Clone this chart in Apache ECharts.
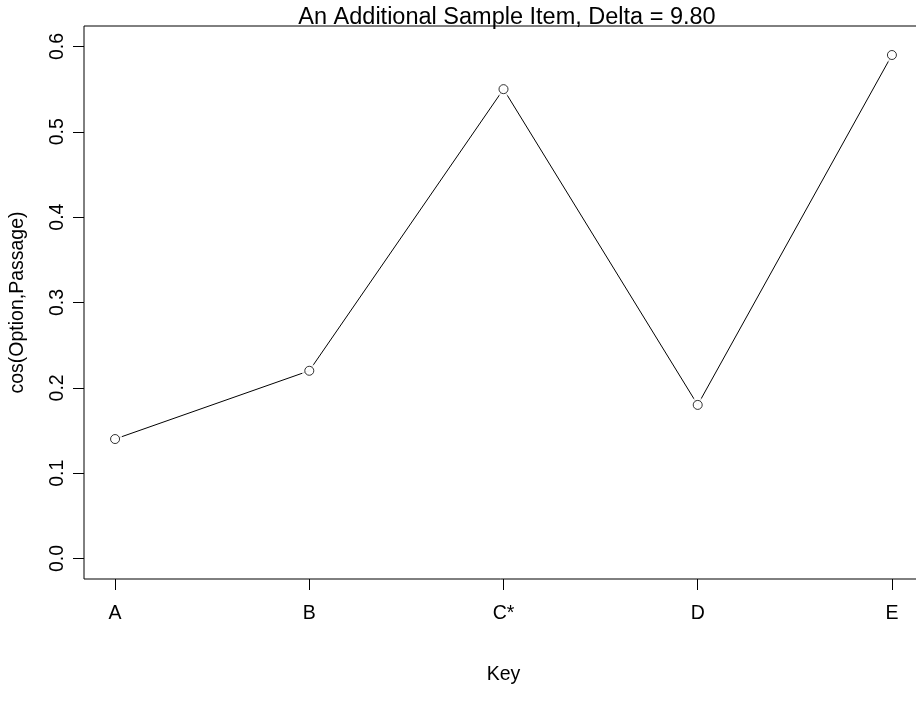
<!DOCTYPE html>
<html>
<head>
<meta charset="utf-8">
<script src="https://cdn.jsdelivr.net/npm/echarts@6/dist/echarts.min.js"></script>
<style>
  html, body { margin: 0; padding: 0; background: #fff; }
  #main { width: 916px; height: 715px; }
</style>
</head>
<body>
<div id="main"></div>
<script>
// data
const categories = ['A', 'B', 'C*', 'D', 'E'];
const values = [0.14, 0.22, 0.55, 0.18, 0.59];
const yTicks = [0, 0.1, 0.2, 0.3, 0.4, 0.5, 0.6];

const FONT = '"Liberation Sans", Arial, sans-serif';

const chart = echarts.init(document.getElementById('main'), null, { renderer: 'canvas' });

// points as [index, value]
const points = values.map((v, i) => [i, v]);
const xTicks = categories.map((c, i) => i);

const option = {
  backgroundColor: '#fff',
  animation: false,
  title: {
    text: 'An Additional Sample Item, Delta = 9.80',
    left: 502,
    top: 1,
    textAlign: 'center',
    textStyle: { fontFamily: FONT, fontSize: 23.5, fontWeight: 'normal', color: '#000' }
  },
  grid: {
    left: 84,
    top: 26,
    width: 839,
    bottom: 136,
    outerBoundsMode: 'none',
    containLabel: false,
    show: true,
    borderColor: '#000',
    borderWidth: 1,
    backgroundColor: 'transparent'
  },
  xAxis: {
    type: 'value',
    min: -0.16,
    max: 4.16,
    name: 'Key',
    nameLocation: 'middle',
    nameGap: 86,
    nameTextStyle: { fontFamily: FONT, fontSize: 19.5, color: '#000' },
    axisLine: { show: false, onZero: false },
    splitLine: { show: false },
    axisTick: {
      show: true,
      length: 11,
      customValues: xTicks,
      lineStyle: { color: '#000' }
    },
    axisLabel: {
      customValues: xTicks,
      margin: 25,
      fontFamily: FONT,
      fontSize: 19.5,
      color: '#000',
      formatter: (v) => categories[Math.round(v)]
    }
  },
  yAxis: {
    type: 'value',
    min: -0.024,
    max: 0.624,
    name: 'cos(Option,Passage)',
    nameLocation: 'middle',
    nameRotate: 90,
    nameGap: 56,
    nameTextStyle: { fontFamily: FONT, fontSize: 19.5, color: '#000' },
    axisLine: { show: false, onZero: false },
    splitLine: { show: false },
    axisTick: {
      show: true,
      length: 11,
      customValues: yTicks,
      lineStyle: { color: '#000' }
    },
    axisLabel: {
      customValues: yTicks,
      rotate: 90,
      margin: 16,
      fontFamily: FONT,
      fontSize: 19.5,
      color: '#000',
      formatter: (v) => v.toFixed(1)
    }
  },
  series: [
    {
      type: 'line',
      data: points,
      symbol: 'none',
      lineStyle: { color: '#000', width: 1 },
      z: 2
    },
    {
      // white halo so the line stops short of each circle
      type: 'scatter',
      data: points,
      symbol: 'circle',
      symbolSize: 15,
      itemStyle: { color: '#fff' },
      z: 3
    },
    {
      type: 'scatter',
      data: points,
      symbol: 'circle',
      symbolSize: 9,
      itemStyle: { color: '#fff', borderColor: '#000', borderWidth: 1 },
      z: 4
    }
  ]
};

chart.setOption(option);
</script>
</body>
</html>
